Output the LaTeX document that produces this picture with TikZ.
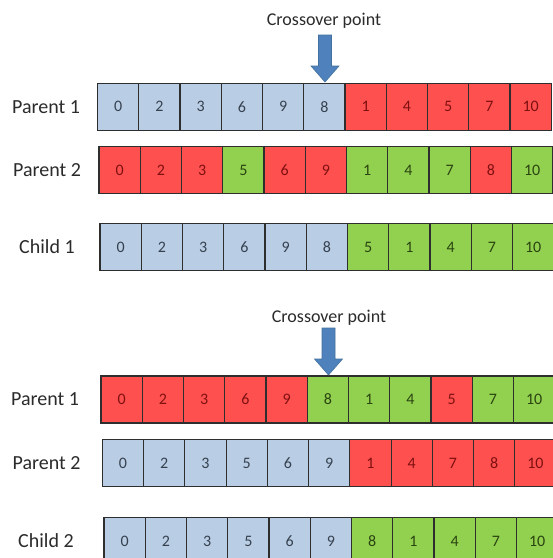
\documentclass[tikz,border=0pt]{standalone}
\usepackage{fontspec}
\setmainfont{Carlito}

% fills and text colours of the three kinds of gene cells
\definecolor{bfill}{HTML}{B9CDE5}
\definecolor{btext}{HTML}{36414F}
\definecolor{rfill}{HTML}{FF5050}
\definecolor{rtext}{HTML}{7E1010}
\definecolor{gfill}{HTML}{92D050}
\definecolor{gtext}{HTML}{2A4410}
\definecolor{cellline}{HTML}{2E2E2E}
\definecolor{labeltext}{HTML}{2B2B2B}
\definecolor{arrowfill}{HTML}{4F81BD}
\definecolor{arrowline}{HTML}{41719C}

\newcommand\cellw{41.25}

\tikzset{
  cell/.style={draw=cellline, line width=1.1pt, fill=#1fill, text=#1text,
    minimum width=\cellw pt, minimum height=47pt, inner sep=0pt, outer sep=0pt,
    anchor=west, font=\fontsize{16}{19}\selectfont},
  rowlabel/.style={text=labeltext, font=\fontsize{20}{24}\selectfont},
  xlabel/.style={text=labeltext, font=\fontsize{18}{21}\selectfont},
  xarrow/.style={fill=arrowfill, draw=arrowline, line width=0.6pt, line join=miter}
}

% one chromosome: name, left x, centre y, list of kind/value pairs
\newcommand\chromosome[4]{%
  \foreach [count=\i from 0] \k/\v in {#4} {
    \node[cell=\k] (#1-\i) at ({#2+\i*\cellw}, #3) {\v};
  }%
}

% downward block arrow whose tip is the given coordinate
\newcommand\crossarrow[1]{%
  \draw[xarrow] (#1) -- ++(-14,-16) -- ++(7.5,0) -- ++(0,-31)
    -- ++(13,0) -- ++(0,31) -- ++(7.5,0) -- cycle;
}

\begin{document}
\begin{tikzpicture}[x=1pt, y=-1pt]
  \useasboundingbox (0,0) rectangle (553,558);
  \clip (0,0) rectangle (553,558);
  \fill[white] (0,0) rectangle (553,558);

  % ---- first crossover: child 1 ----
  \node[xlabel] (cx1) at (324,21) {Crossover point};
  \chromosome{pa}{97.5}{106.75}{b/0,b/2,b/3,b/6,b/9,b/8,r/1,r/4,r/5,r/7,r/10}
  \chromosome{pb}{99}{170}{r/0,r/2,r/3,g/5,r/6,r/9,g/1,g/4,g/7,r/8,g/10}
  \chromosome{ca}{100}{247}{b/0,b/2,b/3,b/6,b/9,b/8,g/5,g/1,g/4,g/7,g/10}
  \coordinate (tipa) at (325,82);
  \crossarrow{tipa}

  \node[rowlabel] (lpa) at (46,106.75) {Parent 1};
  \node[rowlabel] (lpb) at (47,170) {Parent 2};
  \node[rowlabel] (lca) at (47,247) {Child 1};

  % ---- second crossover: child 2 ----
  \node[xlabel] (cx2) at (329,318) {Crossover point};
  \chromosome{pc}{101}{399.5}{r/0,r/2,r/3,r/6,r/9,g/8,g/1,g/4,r/5,g/7,g/10}
  \chromosome{pd}{102.3}{463.3}{b/0,b/2,b/3,b/5,b/6,b/9,r/1,r/4,r/7,r/8,r/10}
  \chromosome{cb}{104}{541}{b/0,b/2,b/3,b/5,b/6,b/9,g/8,g/1,g/4,g/7,g/10}
  \coordinate (tipb) at (328.5,375);
  \crossarrow{tipb}

  \node[rowlabel] (lpc) at (45,399.5) {Parent 1};
  \node[rowlabel] (lpd) at (46.5,463.3) {Parent 2};
  \node[rowlabel] (lcb) at (46,541) {Child 2};
\end{tikzpicture}
\end{document}
